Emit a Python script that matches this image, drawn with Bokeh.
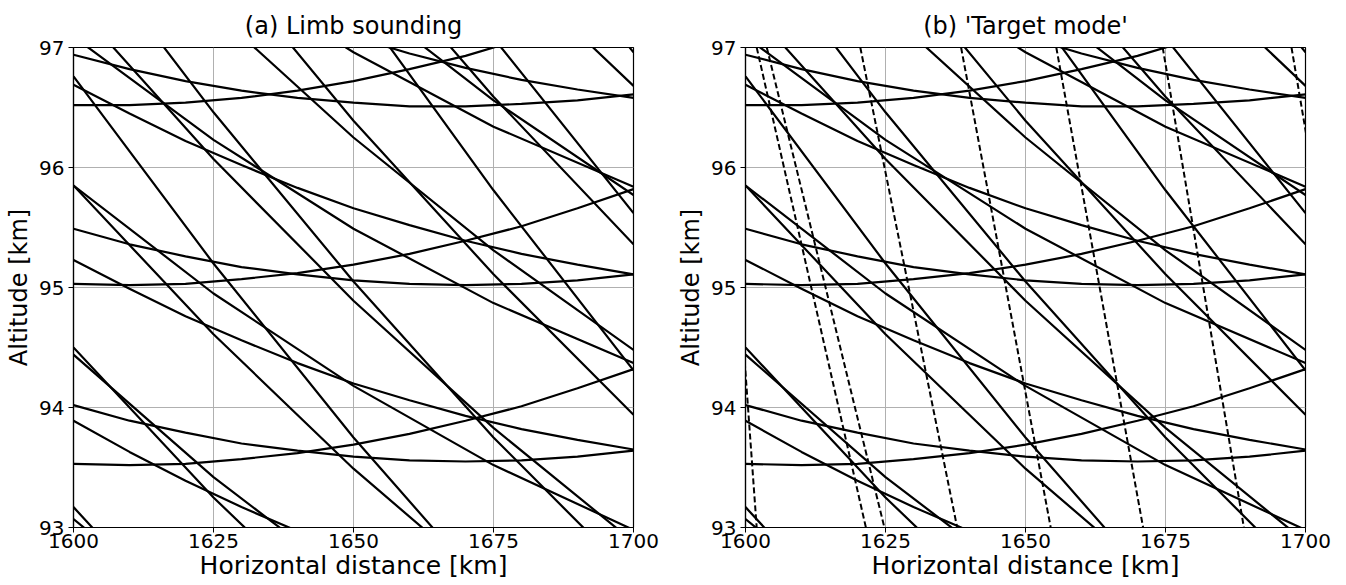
from bokeh.plotting import figure
from bokeh.layouts import row
from bokeh.models import FixedTicker, Range1d, ColumnDataSource
from bokeh.embed import file_html
from bokeh.resources import INLINE

# ---------------- data ----------------
x_ticks = [1600, 1625, 1650, 1675, 1700]
y_ticks = [93, 94, 95, 96, 97]

# rays whose tangent point lies in / near the window, sampled every 10 km
x_fine = [1600, 1610, 1620, 1630, 1640, 1650, 1660, 1670, 1680, 1690, 1700]
rays_near = [
    [96.52, 96.52, 96.54, 96.58, 96.64, 96.72, 96.82, 96.93, 97.07, 97.22, 97.40],
    [95.03, 95.02, 95.03, 95.07, 95.12, 95.19, 95.28, 95.39, 95.51, 95.66, 95.82],
    [93.53, 93.52, 93.53, 93.57, 93.62, 93.69, 93.78, 93.89, 94.01, 94.16, 94.32],
    [96.94, 96.82, 96.72, 96.64, 96.58, 96.54, 96.51, 96.51, 96.53, 96.56, 96.61],
    [95.49, 95.36, 95.26, 95.17, 95.11, 95.06, 95.03, 95.02, 95.03, 95.06, 95.11],
    [94.02, 93.89, 93.79, 93.70, 93.64, 93.59, 93.56, 93.55, 93.56, 93.59, 93.64],
    [98.07, 97.83, 97.62, 97.42, 97.25, 97.09, 96.95, 96.83, 96.73, 96.65, 96.58],
    [96.69, 96.45, 96.22, 96.02, 95.83, 95.66, 95.52, 95.39, 95.28, 95.19, 95.11],
    [95.23, 94.99, 94.76, 94.56, 94.37, 94.20, 94.06, 93.93, 93.82, 93.73, 93.65],
    [93.89, 93.63, 93.39, 93.17, 92.97, 92.79, 92.63, 92.48, 92.36, 92.25, 92.17],
]

# rays whose tangent point lies far to the right, sampled every 25 km
x_coarse = [1600, 1625, 1650, 1675, 1700]
rays_far = [
    [98.56, 97.70, 96.96, 96.34, 95.84],
    [97.09, 96.23, 95.49, 94.87, 94.37],
    [99.63, 98.49, 97.46, 96.56, 95.77],
    [95.85, 94.95, 94.18, 93.52, 92.98],
    [98.50, 97.31, 96.25, 95.31, 94.48],
    [101.84, 100.37, 99.02, 97.79, 96.68],
]
rays_low = [
    [96.76, 95.20, 93.75, 92.42, 91.21],
    [101.00, 99.15, 97.42, 95.81, 94.31],
    [93.17, 91.90, 90.74, 89.70, 88.78],
    [95.85, 94.61, 93.49, 92.49, 91.61],
    [99.32, 97.80, 96.39, 95.11, 93.94],
    [103.49, 101.68, 99.99, 98.41, 96.96],
    [93.07, 92.12, 91.28, 90.57, 89.98],
    [94.50, 93.25, 92.13, 91.12, 90.23],
    [97.99, 96.46, 95.05, 93.75, 92.58],
    [102.18, 100.36, 98.66, 97.08, 95.62],
    [94.44, 93.42, 92.53, 91.75, 91.10],
    [97.37, 96.07, 94.89, 93.83, 92.88],
    [101.00, 99.41, 97.94, 96.59, 95.36],
]

# 'target mode' rays (dashed): x (km) at the top (97 km) and at the bottom (93 km)
target_y = [97, 93]
target_x_top = [1595.8, 1602.0, 1603.8, 1620.5, 1638.5, 1655.5, 1674.5, 1697.5]
target_x_bottom = [1602.0, 1621.5, 1624.8, 1637.8, 1654.5, 1671.0, 1689.0, 1712.0]

FONT = "DejaVu Sans"


def panel(title, with_target, left_border, right_border):
    p = figure(frame_width=560, frame_height=480,
               x_range=Range1d(1600, 1700), y_range=Range1d(93, 97),
               output_backend="svg", toolbar_location=None, title=title,
               min_border_left=left_border, min_border_right=right_border,
               min_border_top=47, min_border_bottom=58,
               background_fill_color="white", border_fill_color="white")
    p.title.align = "center"
    p.title.text_font = FONT
    p.title.text_font_size = "24px"
    p.title.text_font_style = "normal"
    p.title.text_color = "black"
    p.title.standoff = 16

    p.outline_line_color = "black"
    p.outline_line_width = 1.2
    p.outline_line_alpha = 1.0

    p.xaxis.ticker = FixedTicker(ticks=x_ticks, minor_ticks=[])
    p.yaxis.ticker = FixedTicker(ticks=y_ticks, minor_ticks=[])
    p.xgrid.ticker = FixedTicker(ticks=x_ticks, minor_ticks=[])
    p.ygrid.ticker = FixedTicker(ticks=y_ticks, minor_ticks=[])
    for g in (p.xgrid, p.ygrid):
        g.grid_line_color = "#b0b0b0"
        g.grid_line_width = 1

    for ax in (p.xaxis, p.yaxis):
        ax.axis_line_color = "black"
        ax.axis_line_width = 1.2
        ax.major_tick_line_color = "black"
        ax.major_tick_out = 5
        ax.major_tick_in = 0
        ax.major_label_text_font = FONT
        ax.major_label_text_font_size = "20px"
        ax.major_label_text_color = "black"
        ax.axis_label_text_font = FONT
        ax.axis_label_text_font_style = "normal"
        ax.axis_label_text_color = "black"
    p.xaxis.axis_label = "Horizontal distance [km]"
    p.yaxis.axis_label = "Altitude [km]"
    p.xaxis.axis_label_text_font_size = "25px"
    p.yaxis.axis_label_text_font_size = "24px"
    p.xaxis.major_label_standoff = 1
    p.xaxis.axis_label_standoff = 0
    p.yaxis.major_label_standoff = 4
    p.yaxis.axis_label_standoff = 3

    xs = [x_fine] * len(rays_near) + [x_coarse] * (len(rays_far) + len(rays_low))
    ys = rays_near + rays_far + rays_low
    src = ColumnDataSource(dict(xs=xs, ys=ys))
    p.multi_line(xs="xs", ys="ys", source=src, line_color="black", line_width=2.2)

    if with_target:
        txs = [[a, b] for a, b in zip(target_x_top, target_x_bottom)]
        tys = [target_y] * len(txs)
        tsrc = ColumnDataSource(dict(xs=txs, ys=tys))
        p.multi_line(xs="xs", ys="ys", source=tsrc, line_color="black",
                     line_width=2.0, line_dash="6 3")
    return p


p1 = panel("(a) Limb sounding", False, 73, 40)
p2 = panel("(b) 'Target mode'", True, 72, 41)
layout = row(p1, p2)

open("out.html", "w").write(file_html(layout, INLINE))
